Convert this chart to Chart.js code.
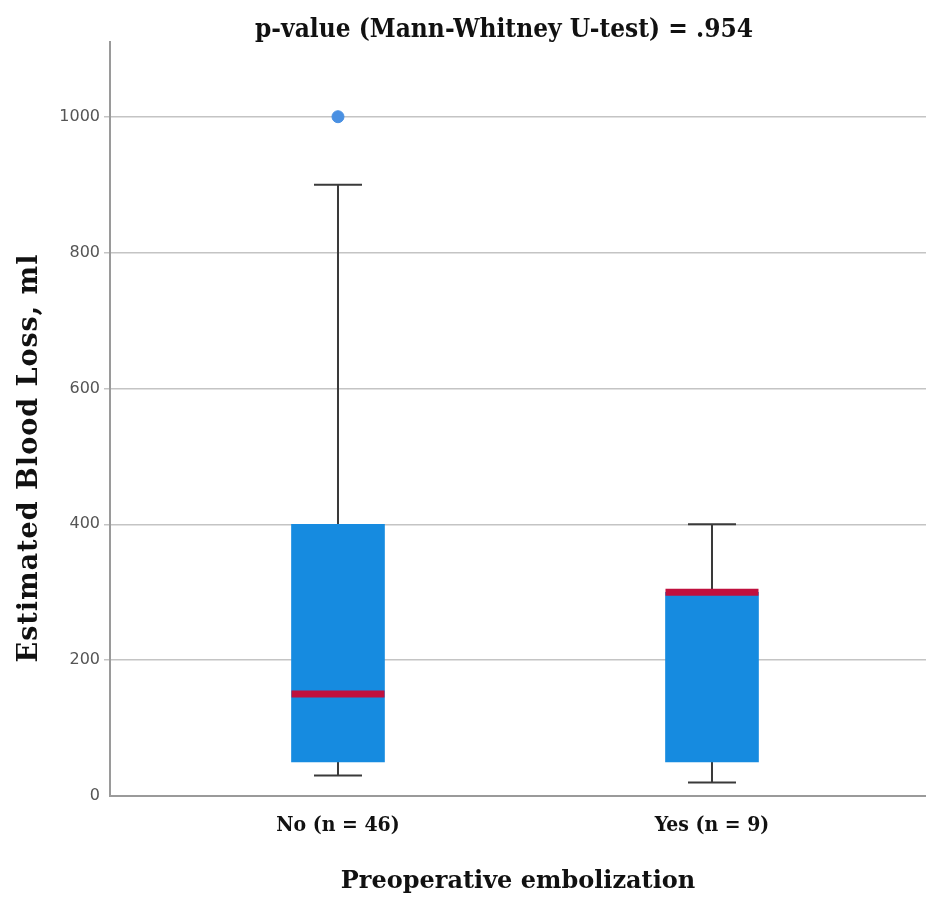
<!DOCTYPE html>
<html>
<head>
<meta charset="utf-8">
<script src="https://cdn.jsdelivr.net/npm/chart.js@4.4.1/dist/chart.umd.min.js"></script>
<style>
  html, body { margin: 0; padding: 0; background: #fff; overflow: hidden; }
  #wrap { width: 926px; height: 897px; }
  canvas { display: block; }
</style>
</head>
<body>
<div id="wrap"><canvas id="chart" width="926" height="897"></canvas></div>
<script>
// data
const groups = ['No (n = 46)', 'Yes (n = 9)'];
const whiskerLow = [30, 20];
const q1 = [50, 50];
const median = [150, 300];
const q3 = [400, 300];
const whiskerHigh = [900, 400];
const outlierGroup = [0];
const outlierValue = [1000];
const yTicks = [0, 200, 400, 600, 800, 1000];

const chartTitle = 'p-value (Mann-Whitney U-test) = .954';
const yTitle = 'Estimated Blood Loss, ml';

const boxColor = '#168be0';
const medianColor = '#c0103e';
const whiskerColor = '#3a3a3a';
const slabBold = '"DejaVu Serif Condensed", "DejaVu Serif", serif';

// whiskers, caps, median lines and the two free-standing titles
const boxExtras = {
    id: 'boxExtras',
    beforeDatasetsDraw(chart) {
        const { ctx, scales: { x, y } } = chart;
        ctx.save();
        ctx.strokeStyle = whiskerColor;
        ctx.lineWidth = 2;
        groups.forEach(function(g, i) {
            const cx = x.getPixelForValue(i);
            const capHalf = 24;
            ctx.beginPath();
            ctx.moveTo(cx, y.getPixelForValue(q3[i]));
            ctx.lineTo(cx, y.getPixelForValue(whiskerHigh[i]));
            ctx.moveTo(cx, y.getPixelForValue(q1[i]));
            ctx.lineTo(cx, y.getPixelForValue(whiskerLow[i]));
            ctx.moveTo(cx - capHalf, y.getPixelForValue(whiskerHigh[i]));
            ctx.lineTo(cx + capHalf, y.getPixelForValue(whiskerHigh[i]));
            ctx.moveTo(cx - capHalf, y.getPixelForValue(whiskerLow[i]));
            ctx.lineTo(cx + capHalf, y.getPixelForValue(whiskerLow[i]));
            ctx.stroke();
        });
        ctx.restore();
    },
    afterDatasetsDraw(chart) {
        const { ctx, scales: { x, y } } = chart;
        ctx.save();
        ctx.strokeStyle = medianColor;
        ctx.lineWidth = 7;
        groups.forEach(function(g, i) {
            const cx = x.getPixelForValue(i);
            const my = y.getPixelForValue(median[i]);
            ctx.beginPath();
            ctx.moveTo(cx - 46.5, my);
            ctx.lineTo(cx + 46.5, my);
            ctx.stroke();
        });
        ctx.restore();
    },
    afterDraw(chart) {
        const ctx = chart.ctx;
        ctx.save();
        ctx.fillStyle = '#111';
        ctx.textAlign = 'center';
        ctx.textBaseline = 'middle';
        ctx.font = 'bold 26px ' + slabBold;
        ctx.fillText(chartTitle, 504, 30);
        ctx.translate(30, 458);
        ctx.rotate(-Math.PI / 2);
        ctx.font = 'bold 27px "DejaVu Serif", serif';
        ctx.letterSpacing = '1px';
        ctx.fillText(yTitle, 0, 0);
        ctx.restore();
    }
};

const ctx = document.getElementById('chart').getContext('2d');
const chart = new Chart(ctx, {
    type: 'bar',
    data: {
        datasets: [{
            type: 'bar',
            data: groups.map(function(g, i) { return { x: i, y: [q1[i], q3[i]] }; }),
            backgroundColor: boxColor,
            borderWidth: 0,
            barThickness: 93
        }, {
            type: 'scatter',
            data: outlierGroup.map(function(g, i) { return { x: g, y: outlierValue[i] }; }),
            backgroundColor: '#4a90e2',
            borderColor: '#4a90e2',
            pointRadius: 6,
            pointStyle: 'circle'
        }]
    },
    options: {
        responsive: false,
        animation: false,
        layout: { autoPadding: false, padding: { top: 42, left: 0, right: 0, bottom: 0 } },
        plugins: {
            legend: { display: false },
            tooltip: { enabled: false },
            title: { display: false }
        },
        scales: {
            x: {
                type: 'linear',
                offset: false,
                bounds: 'data',
                min: -0.6096,
                max: 1.5722,
                afterFit: function(s) {
                    s.height = 101;
                    s.paddingLeft = 0;
                    s.paddingRight = 0;
                },
                afterBuildTicks: function(s) {
                    s.ticks = groups.map(function(g, i) { return { value: i }; });
                },
                ticks: {
                    callback: function(v) { return groups[v]; },
                    color: '#111',
                    font: { family: slabBold, size: 21, weight: 'bold' },
                    padding: 17,
                    maxRotation: 0
                },
                grid: { display: false, drawTicks: false, offset: false },
                border: { display: true, color: '#9a9a9a', width: 2 },
                title: {
                    display: true,
                    text: 'Preoperative embolization',
                    color: '#111',
                    font: { family: '"DejaVu Serif", serif', size: 24, weight: 'bold', lineHeight: 1.0 },
                    padding: { top: 0, bottom: 3 }
                }
            },
            y: {
                min: 0,
                max: 1110,
                afterFit: function(s) {
                    s.width = 110;
                    s.paddingRight = 0;
                    s.paddingLeft = 0;
                },
                afterBuildTicks: function(s) {
                    s.ticks = yTicks.map(function(v) { return { value: v }; });
                },
                ticks: {
                    callback: function(v) { return String(v); },
                    color: '#555',
                    font: { family: '"DejaVu Sans", sans-serif', size: 16 },
                    padding: 4
                },
                grid: {
                    color: function(c) { return c.tick && c.tick.value === 0 ? 'rgba(0,0,0,0)' : '#c4c4c4'; },
                    lineWidth: 1.5,
                    tickLength: 6
                },
                border: { display: true, color: '#9a9a9a', width: 2 },
                title: { display: false }
            }
        }
    },
    plugins: [boxExtras]
});
</script>
</body>
</html>
